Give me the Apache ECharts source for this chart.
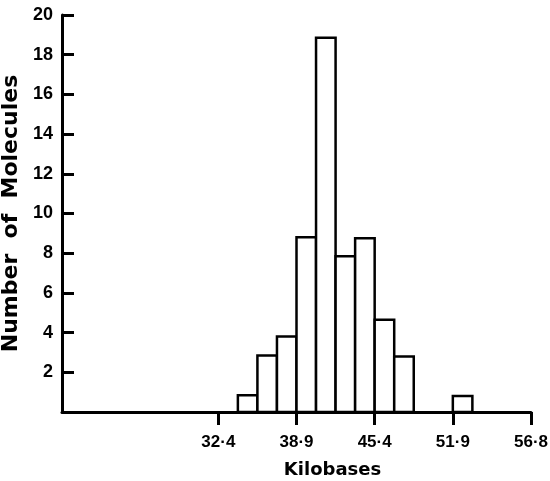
<!DOCTYPE html>
<html><head><meta charset="utf-8">
<script src="https://cdn.jsdelivr.net/npm/echarts@6/dist/echarts.min.js"></script>
<style>html,body{margin:0;padding:0;background:#fff}#c{width:550px;height:481px}</style>
</head><body><div id="c"></div>
<script>
var binLefts = [34.025, 35.65, 37.275, 38.9, 40.525, 42.15, 43.775, 45.4, 47.025, 51.9];
var binWidth = 1.625;
var counts = [0.85, 2.85, 3.8, 8.8, 18.85, 7.85, 8.75, 4.65, 2.8, 0.8];
var xTickValues = [32.4, 38.9, 45.4, 51.9, 58.4];
var xTickLabels = ['32·4', '38·9', '45·4', '51·9', '56·8'];
var yTicks = [2, 4, 6, 8, 10, 12, 14, 16, 18, 20];

var data = binLefts.map(function (l, i) { return [l, l + binWidth, counts[i]]; });
var chart = echarts.init(document.getElementById('c'));
chart.setOption({
  animation: false,
  grid: {left: 62, right: 19, top: 15, bottom: 69, containLabel: false, outerBoundsMode: 'none'},
  xAxis: {
    type: 'value', min: 19.4, max: 58.4,
    splitLine: {show: false},
    axisLine: {lineStyle: {color: '#000', width: 3}},
    axisTick: {show: true, inside: false, length: 13, lineStyle: {color: '#000', width: 3}, customValues: xTickValues},
    axisLabel: {customValues: xTickValues, margin: 22, color: '#000', fontFamily: 'Liberation Sans', fontWeight: 'bold', fontSize: 17,
      formatter: function (v) { var i = xTickValues.indexOf(v); return i >= 0 ? xTickLabels[i] : ''; }},
    name: 'Kilobases', nameLocation: 'middle', nameGap: 49,
    nameTextStyle: {color: '#000', fontFamily: 'DejaVu Sans', fontWeight: 'bold', fontSize: 18, padding: [0, 0, 0, 72]}
  },
  yAxis: {
    type: 'value', min: 0, max: 20, interval: 2,
    splitLine: {show: false},
    axisLine: {show: true, lineStyle: {color: '#000', width: 3}},
    axisTick: {show: true, inside: true, length: 12, lineStyle: {color: '#000', width: 3}, customValues: yTicks},
    axisLabel: {customValues: yTicks, margin: 9, color: '#000', fontFamily: 'Liberation Sans', fontWeight: 'bold', fontSize: 18},
    name: 'Number  of  Molecules', nameLocation: 'middle', nameGap: 36, nameRotate: 90,
    nameTextStyle: {color: '#000', fontFamily: 'DejaVu Sans', fontWeight: 'bold', fontSize: 22, padding: [0, 0, 0, 0]}
  },
  series: [{
    type: 'custom',
    data: data,
    encode: {x: [0, 1], y: 2},
    renderItem: function (params, api) {
      var p0 = api.coord([api.value(0), 0]);
      var p1 = api.coord([api.value(1), api.value(2)]);
      return {
        type: 'rect',
        shape: {x: p0[0], y: p1[1], width: p1[0] - p0[0], height: p0[1] - p1[1]},
        style: {fill: '#fff', stroke: '#000', lineWidth: 2.5}
      };
    }
  }]
});
</script></body></html>
